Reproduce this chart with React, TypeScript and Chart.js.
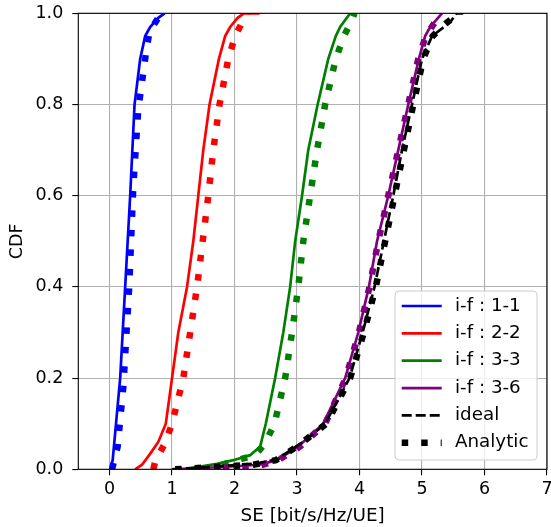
import React, { useEffect, useRef } from 'react';
import { Chart, registerables } from 'chart.js';

Chart.register(...registerables);

// ---- axes ----
const xTicks = [0, 1, 2, 3, 4, 5, 6, 7];
const yTicks = [0, 0.2, 0.4, 0.6, 0.8, 1.0];
const xLabel = 'SE [bit/s/Hz/UE]';
const yLabel = 'CDF';

// ---- series (SE value, CDF level) ----
const cdf11 = [0, 0.02, 0.08, 0.2, 0.4, 0.6, 0.8, 0.9, 0.95, 0.97, 0.99, 1.0];
const se11 = [0.01, 0.05, 0.09, 0.17, 0.25, 0.33, 0.4, 0.49, 0.57, 0.65, 0.78, 0.88];
const cdf11a = [0, 0.05, 0.18, 0.4, 0.62, 0.79, 0.92, 0.96, 0.99, 1.0];
const se11a = [0.04, 0.13, 0.22, 0.315, 0.38, 0.46, 0.59, 0.64, 0.78, 0.82];

const cdf22 = [0, 0.01, 0.036, 0.06, 0.1, 0.2, 0.3, 0.4, 0.5, 0.6, 0.7, 0.8, 0.9, 0.95, 0.97, 0.99, 1.0, 1.0];
const se22 = [0.41, 0.52, 0.66, 0.78, 0.9, 1.0, 1.1, 1.24, 1.34, 1.42, 1.5, 1.6, 1.75, 1.85, 1.93, 2.05, 2.15, 2.4];
const cdf22a = [0, 0.017, 0.058, 0.1, 0.2, 0.3, 0.4, 0.5, 0.6, 0.7, 0.8, 0.9, 0.95, 0.98, 1.0];
const se22a = [0.7, 0.73, 0.89, 1.0, 1.18, 1.29, 1.4, 1.49, 1.58, 1.66, 1.76, 1.9, 2.01, 2.12, 2.2];

const cdf33 = [0, 0.006, 0.012, 0.02, 0.031, 0.05, 0.1, 0.2, 0.3, 0.4, 0.5, 0.6, 0.7, 0.8, 0.9, 0.95, 0.97, 1.0];
const se33 = [1.2, 1.45, 1.72, 1.98, 2.25, 2.41, 2.5, 2.65, 2.78, 2.89, 2.97, 3.08, 3.18, 3.33, 3.5, 3.62, 3.69, 3.85];
const cdf33a = [0, 0.009, 0.031, 0.057, 0.1, 0.2, 0.3, 0.4, 0.5, 0.6, 0.7, 0.8, 0.9, 0.95, 0.985, 1.0];
const se33a = [1.5, 1.77, 2.33, 2.49, 2.64, 2.81, 2.92, 3.02, 3.1, 3.21, 3.32, 3.45, 3.62, 3.75, 3.88, 3.92];

const cdf36 = [0, 0.005, 0.01, 0.02, 0.05, 0.1, 0.2, 0.3, 0.4, 0.5, 0.6, 0.7, 0.8, 0.9, 0.95, 0.97, 1.0];
const se36 = [1.0, 1.8, 2.4, 2.68, 3.02, 3.42, 3.77, 3.98, 4.15, 4.28, 4.46, 4.62, 4.78, 4.95, 5.05, 5.13, 5.32];
const cdf36a = [0, 0.01, 0.02, 0.05, 0.1, 0.2, 0.3, 0.4, 0.5, 0.6, 0.7, 0.8, 0.9, 0.95, 1.0];
const se36a = [1.5, 2.45, 2.7, 3.05, 3.45, 3.78, 3.99, 4.16, 4.3, 4.46, 4.62, 4.78, 4.94, 5.06, 5.3];

const cdfIdeal = [0, 0.005, 0.013, 0.022, 0.044, 0.068, 0.1, 0.2, 0.3, 0.4, 0.5, 0.6, 0.7, 0.8, 0.9, 0.95, 0.98, 1.0, 1.0];
const seIdeal = [1.0, 1.6, 2.36, 2.68, 2.92, 3.18, 3.45, 3.84, 4.05, 4.24, 4.39, 4.54, 4.68, 4.84, 5.0, 5.16, 5.45, 5.55, 5.66];
const cdfIdealA = [0, 0.01, 0.02, 0.05, 0.1, 0.2, 0.3, 0.4, 0.5, 0.6, 0.7, 0.8, 0.9, 0.95, 0.98, 1.0];
const seIdealA = [1.05, 2.3, 2.66, 3.0, 3.47, 3.85, 4.07, 4.26, 4.41, 4.56, 4.71, 4.86, 5.02, 5.17, 5.4, 5.6];

const FONT = '"DejaVu Sans", sans-serif';
const FS = 17.5;
const FS_LEGEND = 18.3;
const FS_XTITLE = 18.4;

const pts = (xs: number[], ys: number[]) => xs.map((x, i) => ({ x, y: ys[i] }));

const SOLID_W = 2.7;
const DOT_W = 6.5;
const DOT_DASH = [6.5, 13];
const DASH = [10, 4];

function ds(label: string, color: string, xs: number[], ys: number[], kind: 'solid' | 'dot' | 'dash', legendRank?: number) {
  return {
    label,
    data: pts(xs, ys),
    borderColor: color,
    backgroundColor: color,
    borderWidth: kind === 'dot' ? DOT_W : SOLID_W,
    borderDash: kind === 'dot' ? DOT_DASH : kind === 'dash' ? DASH : [],
    borderCapStyle: 'butt',
    pointRadius: 0,
    pointHoverRadius: 0,
    showLine: true,
    fill: false,
    tension: 0,
    clip: 0,
    legendRank,
  } as any;
}

const framePlugin = {
  id: 'frame',
  afterDatasetsDraw(chart: any) {
    const { ctx, chartArea: a } = chart;
    ctx.save();
    ctx.strokeStyle = '#000';
    ctx.lineWidth = 1.1;
    ctx.setLineDash([]);
    ctx.strokeRect(a.left, a.top, a.right - a.left, a.bottom - a.top);
    ctx.restore();
  },
};

const legendPlugin = {
  id: 'mplLegend',
  afterDraw(chart: any) {
    const { ctx, chartArea: a } = chart;
    const items = chart.data.datasets
      .filter((d: any) => d.legendRank !== undefined)
      .sort((p: any, q: any) => p.legendRank - q.legendRank);
    const w = 142;
    const h = 169;
    const x0 = a.right - 10 - w;
    const y0 = a.bottom - 9.3 - h;
    ctx.save();
    ctx.beginPath();
    const r = 4;
    ctx.moveTo(x0 + r, y0);
    ctx.arcTo(x0 + w, y0, x0 + w, y0 + h, r);
    ctx.arcTo(x0 + w, y0 + h, x0, y0 + h, r);
    ctx.arcTo(x0, y0 + h, x0, y0, r);
    ctx.arcTo(x0, y0, x0 + w, y0, r);
    ctx.closePath();
    ctx.fillStyle = 'rgba(255,255,255,0.8)';
    ctx.fill();
    ctx.strokeStyle = '#cccccc';
    ctx.lineWidth = 1;
    ctx.stroke();
    items.forEach((d: any, i: number) => {
      const cy = y0 + 15 + i * 27.35;
      ctx.beginPath();
      ctx.setLineDash(d.borderDash || []);
      ctx.lineCap = 'butt';
      ctx.lineWidth = d.borderWidth;
      ctx.strokeStyle = d.borderColor;
      ctx.moveTo(x0 + 6.7, cy);
      ctx.lineTo(x0 + 46.7, cy);
      ctx.stroke();
      ctx.setLineDash([]);
      ctx.fillStyle = '#000';
      ctx.font = `${FS_LEGEND}px ${FONT}`;
      ctx.textBaseline = 'middle';
      ctx.textAlign = 'left';
      ctx.fillText(d.label, x0 + 60, cy);
    });
    ctx.restore();
  },
};

export default function App() {
  const ref = useRef<HTMLCanvasElement | null>(null);
  useEffect(() => {
    if (!ref.current) return;
    const datasets = [
      ds('Analytic', '#000000', seIdealA, cdfIdealA, 'dot', 5),
      ds('ideal', '#000000', seIdeal, cdfIdeal, 'dash', 4),
      ds('i-f : 3-6 (analytic)', '#800080', se36a, cdf36a, 'dot'),
      ds('i-f : 3-6', '#800080', se36, cdf36, 'solid', 3),
      ds('i-f : 3-3 (analytic)', '#008000', se33a, cdf33a, 'dot'),
      ds('i-f : 3-3', '#008000', se33, cdf33, 'solid', 2),
      ds('i-f : 2-2 (analytic)', '#ff0000', se22a, cdf22a, 'dot'),
      ds('i-f : 2-2', '#ff0000', se22, cdf22, 'solid', 1),
      ds('i-f : 1-1 (analytic)', '#0000ff', se11a, cdf11a, 'dot'),
      ds('i-f : 1-1', '#0000ff', se11, cdf11, 'solid', 0),
    ];
    const tickFont = { family: FONT, size: FS };
    const chart = new Chart(ref.current, {
      type: 'scatter',
      data: { datasets },
      options: {
        animation: false,
        responsive: false,
        devicePixelRatio: 1,
        layout: { padding: { left: 0, right: 4, top: 13.3, bottom: 0 } },
        plugins: { legend: { display: false }, tooltip: { enabled: false } },
        scales: {
          x: {
            type: 'linear',
            min: -0.5,
            max: 7,
            afterBuildTicks: (s: any) => {
              s.ticks = xTicks.map((v) => ({ value: v }));
            },
            afterFit: (s: any) => {
              s.height = 57.7;
              s.paddingLeft = 0;
              s.paddingRight = 0;
              s.paddingTop = 0;
              s.paddingBottom = 0;
            },
            grid: { color: '#b0b0b0', lineWidth: 1.1, drawTicks: true, tickLength: 6, tickColor: '#000', tickWidth: 1.1 },
            border: { display: false },
            ticks: { color: '#000', font: tickFont, padding: 3.8, maxRotation: 0, autoSkip: false, callback: (v: any) => String(v) },
            title: { display: true, text: xLabel, color: '#000', font: { family: FONT, size: FS_XTITLE }, padding: { top: 0, bottom: 0 } },
          },
          y: {
            type: 'linear',
            min: 0,
            max: 1,
            afterBuildTicks: (s: any) => {
              s.ticks = yTicks.map((v) => ({ value: v }));
            },
            afterFit: (s: any) => {
              s.width = 78.3;
              s.paddingLeft = 0;
              s.paddingRight = 0;
              s.paddingTop = 0;
              s.paddingBottom = 0;
            },
            grid: { color: '#b0b0b0', lineWidth: 1.1, drawTicks: true, tickLength: 6, tickColor: '#000', tickWidth: 1.1 },
            border: { display: false },
            ticks: { color: '#000', font: tickFont, padding: 9, autoSkip: false, callback: (v: any) => Number(v).toFixed(1) },
            title: { display: true, text: yLabel, color: '#000', font: tickFont, padding: { top: 7.4, bottom: 0 } },
          },
        },
      } as any,
      plugins: [framePlugin, legendPlugin],
    });
    return () => chart.destroy();
  }, []);
  return (
    <div style={{ position: 'absolute', left: 0, top: 0, width: 551, height: 527, background: '#fff' }}>
      <canvas ref={ref} width={551} height={527} style={{ display: 'block', width: 551, height: 527 }} />
    </div>
  );
}
